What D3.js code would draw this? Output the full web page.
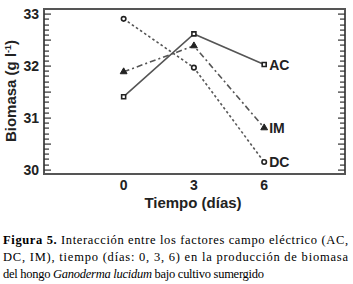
<!DOCTYPE html>
<html>
<head>
<meta charset="utf-8">
<script src="https://cdn.jsdelivr.net/npm/d3@7"></script>
<style>
body { margin: 0; background: #fff; }
</style>
</head>
<body>
<script>
// data
var dias = [0, 3, 6];
var ac = [31.41, 32.62, 32.03];
var im = [31.89, 32.39, 30.81];
var dc = [32.91, 31.97, 30.15];
var yTicks = [30, 31, 32, 33];

var w = 353, h = 284;
var pLeft = 44, pRight = 345, pTop = 9, pBottom = 174;
var sans = "'Liberation Sans', Arial, sans-serif";
var serif = "'Liberation Serif', serif";

var svg = d3.select("body").append("svg")
    .attr("width", w)
    .attr("height", h);

var xScale = d3.scaleLinear().domain([-3.4, 9.45]).range([pLeft, pRight]);
var yScale = d3.scaleLinear().domain([29.92, 33.1]).range([pBottom, pTop]);

// frame
svg.append("rect")
    .attr("x", pLeft).attr("y", pTop)
    .attr("width", pRight - pLeft).attr("height", pBottom - pTop)
    .attr("fill", "none").attr("stroke", "#555").attr("stroke-width", 2);

// inside ticks, minor every 0.1 and major every 0.5, both sides
var tickVals = d3.range(300, 331).map(function(d) { return d / 10; });
function tickLen(d) { return (Math.round(d * 10) % 5 == 0) ? 7 : 5; }

svg.append("g").selectAll("rect").data(tickVals).enter().append("rect")
    .attr("x", pLeft)
    .attr("y", function(d) { return Math.round(yScale(d)) - 0.5; })
    .attr("width", tickLen).attr("height", 1.2)
    .attr("fill", "#333");
svg.append("g").selectAll("rect").data(tickVals).enter().append("rect")
    .attr("x", function(d) { return pRight - tickLen(d); })
    .attr("y", function(d) { return Math.round(yScale(d)) - 0.5; })
    .attr("width", tickLen).attr("height", 1.2)
    .attr("fill", "#333");

// tick labels
svg.selectAll(".ylab").data(yTicks).enter().append("text")
    .attr("x", 39).attr("y", function(d) { return yScale(d) + 5; })
    .attr("text-anchor", "end")
    .attr("font-family", sans)
    .attr("font-weight", "bold").attr("font-size", "14px")
    .attr("fill", "#222")
    .text(function(d) { return d; });

svg.selectAll(".xlab").data(dias).enter().append("text")
    .attr("x", function(d) { return xScale(d); }).attr("y", 190)
    .attr("text-anchor", "middle")
    .attr("font-family", sans)
    .attr("font-weight", "bold").attr("font-size", "14px")
    .attr("fill", "#222")
    .text(function(d) { return d; });

// axis titles
svg.append("text")
    .attr("x", 193).attr("y", 208)
    .attr("text-anchor", "middle")
    .attr("font-family", sans)
    .attr("font-weight", "bold").attr("font-size", "15px")
    .attr("fill", "#222")
    .text("Tiempo (días)");

var yt = svg.append("text")
    .attr("transform", "translate(16,91) rotate(-90)")
    .attr("text-anchor", "middle")
    .attr("font-family", sans)
    .attr("font-weight", "bold").attr("font-size", "15px")
    .attr("fill", "#222");
yt.append("tspan").text("Biomasa (g l");
yt.append("tspan").attr("dy", -5).attr("font-size", "9px").text("-1");
yt.append("tspan").attr("dy", 5).text(")");

// series
var line = d3.line()
    .x(function(d, i) { return xScale(dias[i]); })
    .y(function(d) { return yScale(d); });

var series = [
    {name: "AC", vals: ac, dash: null, shape: d3.symbolSquare},
    {name: "IM", vals: im, dash: "6,3,2,3", shape: d3.symbolTriangle},
    {name: "DC", vals: dc, dash: "2.5,2.5", shape: d3.symbolCircle}
];

series.forEach(function(s) {
    svg.append("path")
        .attr("d", line(s.vals))
        .attr("fill", "none")
        .attr("stroke", "#555")
        .attr("stroke-width", 1.6)
        .attr("stroke-dasharray", s.dash);
    svg.selectAll(null).data(s.vals).enter().append("path")
        .attr("transform", function(d, i) {
            return "translate(" + xScale(dias[i]) + "," + yScale(d) + ")";
        })
        .attr("d", d3.symbol().type(s.shape).size(s.name == "IM" ? 20 : 16))
        .attr("fill", s.name == "IM" ? "#222" : "#fff")
        .attr("stroke", "#222")
        .attr("stroke-width", s.name == "IM" ? 1 : 1.6);
    svg.append("text")
        .attr("x", xScale(6) + 5)
        .attr("y", yScale(s.vals[2]) + 5)
        .attr("font-family", sans)
        .attr("font-weight", "bold").attr("font-size", "14px")
        .attr("fill", "#222")
        .text(s.name);
});

// caption
var cap = [
    [{t: "Figura 5.", b: true}, {t: " Interacción entre los factores campo eléctrico (AC,"}],
    [{t: "DC, IM), tiempo (días: 0, 3, 6) en la producción de biomasa"}],
    [{t: "del hongo "}, {t: "Ganoderma lucidum", i: true}, {t: " bajo cultivo sumergido"}]
];
var capLen = [345, 345, 261];
cap.forEach(function(parts, k) {
    var t = svg.append("text")
        .attr("x", 3).attr("y", 244 + k * 17)
        .attr("font-family", serif)
        .attr("font-size", "12.5px")
        .attr("fill", "#000")
        .attr("textLength", capLen[k])
        .attr("lengthAdjust", "spacing");
    parts.forEach(function(p) {
        t.append("tspan")
            .attr("font-weight", p.b ? "bold" : null)
            .attr("font-style", p.i ? "italic" : null)
            .text(p.t);
    });
});
</script>
</body>
</html>
